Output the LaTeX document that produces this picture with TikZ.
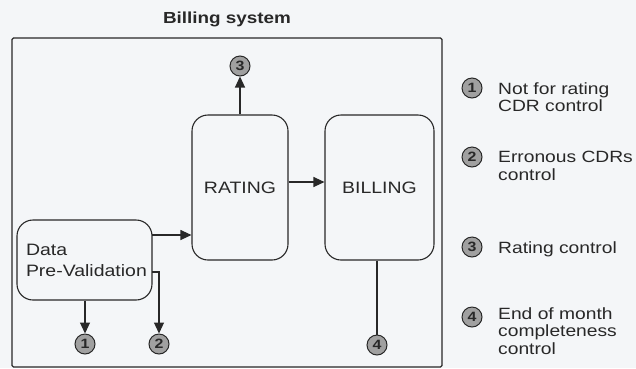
\documentclass[tikz,border=0pt]{standalone}
\usepackage{fontspec}
\setmainfont[FakeStretch=1.18]{Liberation Sans}
\usetikzlibrary{arrows.meta}
\definecolor{bg}{HTML}{F4F6F8}
\definecolor{ink}{HTML}{282828}
\definecolor{disc}{HTML}{A0A0A0}
\tikzset{
  stepbox/.style={draw=ink, line width=1.1pt, rounded corners=16pt, inner sep=0pt, font=\fontsize{16.5}{18}\selectfont, text=ink},
  num/.style={circle, draw=ink, fill=disc, line width=1pt, minimum size=20pt, inner sep=0pt, font=\bfseries\fontsize{13.5}{13.5}\selectfont, text=ink},
  conn/.style={draw=ink, line width=1.1pt},
  arr/.style={conn, -{Triangle[length=11pt,width=10pt]}},
  legtext/.style={anchor=north west, inner sep=0pt, align=left, font=\fontsize{16.3}{17.5}\selectfont, text=ink}
}
\begin{document}
\begin{tikzpicture}[x=1pt,y=-1pt]
\fill[bg] (0,0) rectangle (636,368);
\useasboundingbox (0,0) rectangle (636,368);

% frame
\node[draw=ink, line width=1.1pt, rounded corners=1.5pt, minimum width=430pt, minimum height=329pt, inner sep=0pt] (frame) at (227,202.5) {};
\node[font=\bfseries\fontsize{16}{18}\selectfont, text=ink] (title) at (227,19) {Billing system};

% boxes
\node[stepbox, minimum width=135pt, minimum height=80pt, text width=117pt, align=left, inner xsep=9pt] (data) at (84.5,260)
  {Data\\[3pt]\mbox{Pre-Validation}};
\node[stepbox, minimum width=96pt, minimum height=145pt] (rating) at (240,187.5) {RATING};
\node[stepbox, minimum width=109pt, minimum height=145pt] (billing) at (379.5,187.5) {BILLING};

% numbered discs
\node[num] (c1) at (85,344) {1};
\node[num] (c2) at (159,344) {2};
\node[num] (c3) at (240,66) {3};
\node[num] (c4) at (377,345) {4};

% connectors
\coordinate (dr1) at (152,235);
\coordinate (dr2) at (152,272);
\draw[arr] (dr1) -- (rating.west |- dr1);
\draw[arr] (rating.east |- 0,182) -- (billing.west |- 0,182);
\draw[arr] (rating.north) -- (c3.south);
\draw[arr] (data.south -| c1) -- (c1.north);
\draw[arr] (dr2) -| (c2.north);
\draw[conn] (billing.south -| c4) -- (c4.north);

% legend
\node[num] (l1) at (472,88) {1};
\node[num] (l2) at (472,157) {2};
\node[num] (l3) at (472,247) {3};
\node[num] (l4) at (472,317) {4};
\node[legtext] (t1) at (498,82) {Not for rating\\CDR control};
\node[legtext] (t2) at (498,151) {Erronous CDRs\\control};
\node[legtext] (t3) at (498,241) {Rating control};
\node[legtext] (t4) at (498,307) {End of month\\completeness\\control};
\end{tikzpicture}
\end{document}
